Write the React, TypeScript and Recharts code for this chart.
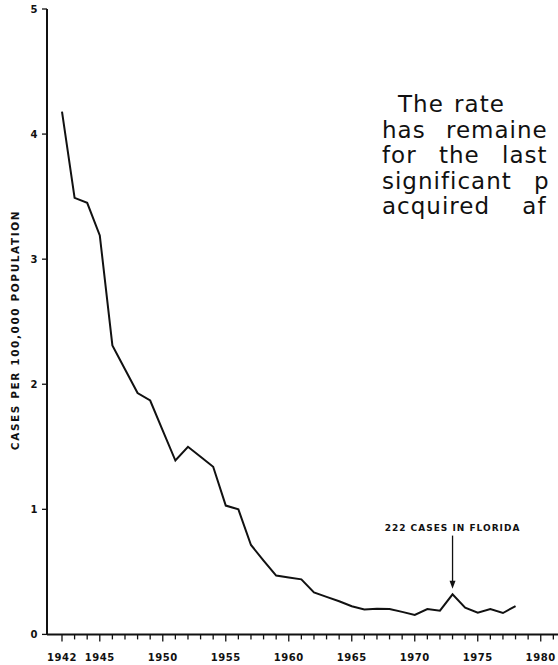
import React from 'react';
import { LineChart, Line, XAxis, YAxis, ReferenceLine } from 'recharts';

const years = [1942, 1943, 1944, 1945, 1946, 1947, 1948, 1949, 1950, 1951, 1952, 1953, 1954, 1955, 1956, 1957, 1958, 1959, 1960, 1961, 1962, 1963, 1964, 1965, 1966, 1967, 1968, 1969, 1970, 1971, 1972, 1973, 1974, 1975, 1976, 1977, 1978];
const rates = [4.18, 3.49, 3.45, 3.19, 2.31, 2.12, 1.93, 1.87, 1.63, 1.39, 1.5, 1.42, 1.34, 1.03, 1.0, 0.715, 0.59, 0.47, 0.455, 0.44, 0.335, 0.3, 0.265, 0.225, 0.2, 0.205, 0.203, 0.18, 0.155, 0.203, 0.19, 0.32, 0.213, 0.173, 0.203, 0.171, 0.227];
const xTicks = [1942, 1943, 1944, 1945, 1946, 1947, 1948, 1949, 1950, 1951, 1952, 1953, 1954, 1955, 1956, 1957, 1958, 1959, 1960, 1961, 1962, 1963, 1964, 1965, 1966, 1967, 1968, 1969, 1970, 1971, 1972, 1973, 1974, 1975, 1976, 1977, 1978, 1979, 1980, 1981];
const xLabels = [1942, 1945, 1950, 1955, 1960, 1965, 1970, 1975, 1980];
const yTicks = [0, 1, 2, 3, 4, 5];
const yTitle = 'CASES PER 100,000 POPULATION';
const annotationText = '222 CASES IN FLORIDA';
const annotationYear = 1973;
const paragraph = ['The rate', 'has remaine', 'for the last', 'significant p', 'acquired af'];
const paragraphWordSpacing = [2, 12, 14, 14, 24];

const data = years.map((y, i) => ({ year: y, rate: rates[i] }));
const FONT = '"DejaVu Sans", sans-serif';

const XTick = (props: any) => {
  const { x, y, payload } = props;
  const v = payload.value;
  const major = xLabels.includes(v);
  return (
    <g>
      <line x1={x} x2={x} y1={y} y2={y + (major ? 7 : 5)} stroke="#111" strokeWidth={1.3} />
      {major && (
        <text x={x} y={y + 27} textAnchor="middle" fontFamily={FONT} fontWeight="bold" fontSize={10} fill="#111" letterSpacing={0.6}>
          {v}
        </text>
      )}
    </g>
  );
};

const YTick = (props: any) => {
  const { x, y, payload } = props;
  return (
    <g>
      <line x1={x - 5} x2={x} y1={y} y2={y} stroke="#111" strokeWidth={1.3} />
      <text x={x - 13} y={y + 1} textAnchor="middle" dominantBaseline="middle" fontFamily={FONT} fontWeight="bold" fontSize={10} fill="#111">
        {payload.value}
      </text>
    </g>
  );
};

const ArrowShape = (props: any) => {
  const { x1, y1, x2, y2 } = props;
  return (
    <g>
      <text x={x1} y={y1 - 5} textAnchor="middle" fontFamily={FONT} fontWeight="bold" fontSize={9} fill="#111" letterSpacing={1}>
        {annotationText}
      </text>
      <line x1={x1} y1={y1} x2={x2} y2={y2 - 5} stroke="#111" strokeWidth={1.3} />
      <polygon points={`${x2 - 3},${y2 - 8} ${x2 + 3},${y2 - 8} ${x2},${y2}`} fill="#111" />
    </g>
  );
};

export default function App() {
  return (
    <div style={{ position: 'absolute', left: 0, top: 0, width: 558, height: 665, overflow: 'hidden', background: '#fff' }}>
      <LineChart width={558} height={665} data={data} margin={{ top: 9, right: 0, bottom: 0, left: 0 }}>
        <XAxis
          dataKey="year"
          type="number"
          domain={[1940.81, 1981.37]}
          allowDataOverflow
          ticks={xTicks}
          interval={0}
          tick={<XTick />}
          tickLine={false}
          tickSize={0}
          tickMargin={0}
          height={30.6}
          axisLine={{ stroke: '#111', strokeWidth: 2 }}
        />
        <YAxis
          type="number"
          domain={[0, 5]}
          ticks={yTicks}
          interval={0}
          tick={<YTick />}
          tickLine={false}
          tickSize={0}
          tickMargin={0}
          width={47}
          axisLine={{ stroke: '#111', strokeWidth: 2 }}
        />
        <ReferenceLine
          segment={[{ x: annotationYear, y: 0.79 }, { x: annotationYear, y: 0.365 }]}
          stroke="#111"
          shape={<ArrowShape />}
          ifOverflow="visible"
        />
        <Line type="linear" dataKey="rate" stroke="#111" strokeWidth={2} dot={false} isAnimationActive={false} />
      </LineChart>
      <svg width={558} height={665} style={{ position: 'absolute', left: 0, top: 0, pointerEvents: 'none' }}>
        <text x={0} y={0} transform="translate(19,330) rotate(-90)" textAnchor="middle" fontFamily={FONT} fontWeight="bold" fontSize={10.5} fill="#111" letterSpacing={1.6}>
          {yTitle}
        </text>
        {paragraph.map((line, i) => (
          <text key={i} x={i === 0 ? 398 : 382} y={112 + i * 25.5} fontFamily={FONT} fontSize={23} fill="#111" letterSpacing={1} style={{ wordSpacing: paragraphWordSpacing[i] }}>
            {line}
          </text>
        ))}
      </svg>
    </div>
  );
}
